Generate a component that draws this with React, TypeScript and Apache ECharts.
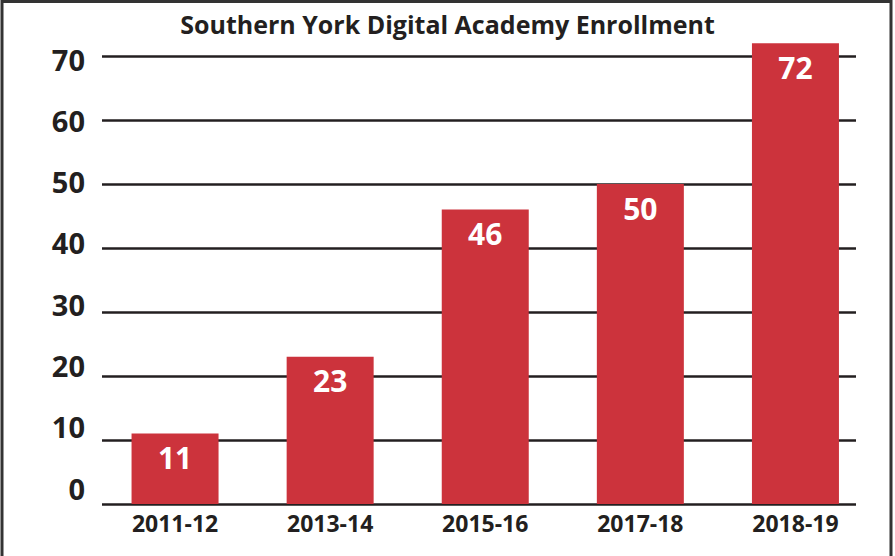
import React, { useEffect, useRef } from "react";
import * as echarts from "echarts";

const categories = ["2011-12", "2013-14", "2015-16", "2017-18", "2018-19"];
const enrollment = [11, 23, 46, 50, 72];
const titleText = "Southern York Digital Academy Enrollment";

const TEXT = "#231F20";
const RED = "#CC333C";
const FONT = "'Open Sans', 'Noto Sans', sans-serif";

export default function App() {
  const ref = useRef<HTMLDivElement>(null);
  useEffect(() => {
    document.body.style.margin = "0";
    const chart = echarts.init(ref.current!, null, { renderer: "svg" });
    chart.setOption({
      animation: false,
      backgroundColor: "#ffffff",
      title: {
        text: titleText,
        left: "center",
        top: 6,
        textStyle: { fontFamily: FONT, fontWeight: "bold", fontSize: 25, color: TEXT },
      },
      grid: [
        { left: 102, right: 39, top: 24, bottom: 52 },
        { left: 97.5, right: 22, top: 24, bottom: 52 },
        { left: 102, right: 39, top: 59, bottom: 68 },
      ],
      xAxis: [
        { type: "category", gridIndex: 0, data: categories, show: false },
        {
          type: "category",
          gridIndex: 1,
          data: categories,
          axisLine: { show: false },
          axisTick: { show: false },
          axisLabel: { fontFamily: FONT, fontWeight: "bold", fontSize: 23, color: TEXT, margin: 7 },
        },
        { type: "category", gridIndex: 2, data: categories, show: false },
      ],
      yAxis: [
        {
          type: "value",
          gridIndex: 0,
          min: 0,
          max: 75,
          interval: 10,
          axisLine: { show: false },
          axisTick: { show: false },
          axisLabel: { show: false },
          splitLine: { show: true, showMaxLine: false, lineStyle: { color: TEXT, width: 2.5 } },
        },
        { type: "value", gridIndex: 1, min: 0, max: 75, interval: 10, show: false, splitLine: { show: false } },
        {
          type: "value",
          gridIndex: 2,
          min: 0,
          max: 70,
          interval: 10,
          axisLine: { show: false },
          axisTick: { show: false },
          splitLine: { show: false },
          axisLabel: {
            fontFamily: FONT,
            fontWeight: "bold",
            fontSize: 29,
            color: TEXT,
            margin: 17,
          },
        },
      ],
      series: [
        {
          type: "bar",
          xAxisIndex: 1,
          yAxisIndex: 1,
          data: enrollment,
          barWidth: 87,
          itemStyle: { color: RED },
          label: {
            show: true,
            position: "insideTop",
            distance: 9,
            fontFamily: FONT,
            fontWeight: "bold",
            fontSize: 30,
            color: "#ffffff",
          },
        },
      ],
      graphic: [
        {
          type: "rect",
          shape: { x: 2, y: 1.5, width: 889, height: 560 },
          style: { fill: "none", stroke: "#333333", lineWidth: 3 },
          silent: true,
          z: 100,
        },
      ],
    });
    return () => chart.dispose();
  }, []);
  return <div ref={ref} style={{ position: "absolute", left: 0, top: 0, width: 895, height: 556 }} />;
}
